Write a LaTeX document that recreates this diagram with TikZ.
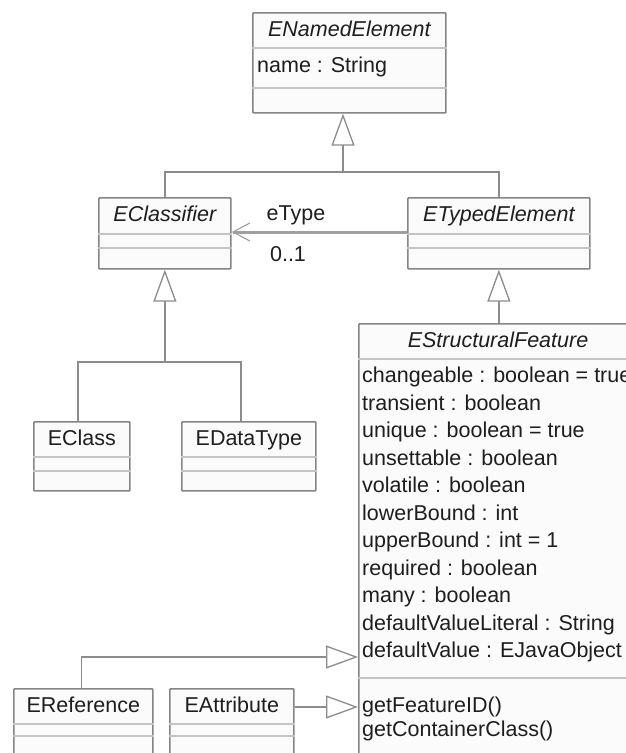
\documentclass[tikz,border=0pt]{standalone}
\usepackage{fontspec}
\setmainfont{Liberation Sans}
\usetikzlibrary{arrows.meta}

\definecolor{boxedge}{HTML}{858585}
\definecolor{boxfill}{HTML}{FBFBFB}
\definecolor{seprule}{HTML}{C4C4C4}
\definecolor{treeline}{HTML}{8C8C8C}
\definecolor{assocline}{HTML}{A0A0A0}
\definecolor{ink}{HTML}{1E1E1E}

\begin{document}
\begin{tikzpicture}[x=1pt,y=-1pt,
  font=\fontsize{21.5}{25}\selectfont,
  classbox/.style={draw=boxedge, line width=1.7pt, fill=boxfill, anchor=north west,
                   inner sep=0pt, rounded corners=0.8pt},
  seprow/.style={draw=seprule, line width=1.6pt},
  txt/.style={text=ink, inner sep=0pt, text height=15.5pt, text depth=4.5pt},
  abstitle/.style={txt, font=\fontsize{21.5}{25}\selectfont\itshape},
  contitle/.style={txt},
  member/.style={txt, anchor=west},
  tree/.style={draw=treeline, line width=1.6pt},
  gentip/.style={-{Triangle[length=32pt,width=23pt,fill=white,line width=1.3pt]}},
  assoc/.style={draw=assocline, line width=3pt,
                -{Straight Barb[length=17pt,width=18pt,line width=1.1pt]}},
  label/.style={txt}]

\useasboundingbox (0,0) rectangle (626,753);
\clip (0,0) rectangle (626,753);
\fill[white] (0,0) rectangle (626,753);

% ---------- ENamedElement ----------
\node[classbox, minimum width=193pt, minimum height=100pt] (ene) at (252,12) {};
\draw[seprow] (ene.west |- 0,48) -- (ene.east |- 0,48);
\draw[seprow] (ene.west |- 0,88) -- (ene.east |- 0,88);
\node[abstitle] (ene-t) at (ene.north |- 0,31) {ENamedElement};
\node[member] (ene-a1) at (257,67) {name : String};

% ---------- EClassifier ----------
\node[classbox, minimum width=132pt, minimum height=71pt] (ecl) at (98,197) {};
\draw[seprow] (ecl.west |- 0,234) -- (ecl.east |- 0,234);
\draw[seprow] (ecl.west |- 0,248) -- (ecl.east |- 0,248);
\node[abstitle] (ecl-t) at (ecl.north |- 0,216) {EClassifier};

% ---------- ETypedElement ----------
\node[classbox, minimum width=182pt, minimum height=71pt] (ete) at (407,197) {};
\draw[seprow] (ete.west |- 0,234) -- (ete.east |- 0,234);
\draw[seprow] (ete.west |- 0,248) -- (ete.east |- 0,248);
\node[abstitle] (ete-t) at (ete.north |- 0,216) {ETypedElement};

% ---------- EClass ----------
\node[classbox, minimum width=96pt, minimum height=69pt] (ecs) at (33,421) {};
\draw[seprow] (ecs.west |- 0,457) -- (ecs.east |- 0,457);
\draw[seprow] (ecs.west |- 0,471) -- (ecs.east |- 0,471);
\node[contitle] (ecs-t) at (ecs.north |- 0,440) {EClass};

% ---------- EDataType ----------
\node[classbox, minimum width=134pt, minimum height=69pt] (edt) at (181,421) {};
\draw[seprow] (edt.west |- 0,457) -- (edt.east |- 0,457);
\draw[seprow] (edt.west |- 0,471) -- (edt.east |- 0,471);
\node[contitle] (edt-t) at (edt.north |- 0,440) {EDataType};

% ---------- EStructuralFeature ----------
\node[classbox, minimum width=282pt, minimum height=460pt] (esf) at (358,323) {};
\draw[seprow] (esf.west |- 0,359) -- (esf.east |- 0,359);
\draw[seprow] (esf.west |- 0,678) -- (esf.east |- 0,678);
\node[abstitle] (esf-t) at (498,342) {EStructuralFeature};
\foreach \txt [count=\i from 0] in {
    changeable : boolean = true,
    transient : boolean,
    unique : boolean = true,
    unsettable : boolean,
    volatile : boolean,
    lowerBound : int,
    upperBound : int = 1,
    required : boolean,
    many : boolean,
    defaultValueLiteral : String,
    defaultValue : EJavaObject}
  \node[member] (esf-a\i) at (362,377+27.5*\i) {\txt};
\node[member] (esf-o1) at (362,707) {getFeatureID()};
\node[member] (esf-o2) at (362,731) {getContainerClass()};

% ---------- EReference ----------
\node[classbox, minimum width=139pt, minimum height=90pt] (erf) at (13,688) {};
\draw[seprow] (erf.west |- 0,724) -- (erf.east |- 0,724);
\draw[seprow] (erf.west |- 0,736) -- (erf.east |- 0,736);
\node[contitle] (erf-t) at (erf.north |- 0,707) {EReference};

% ---------- EAttribute ----------
\node[classbox, minimum width=124pt, minimum height=90pt] (eat) at (169,688) {};
\draw[seprow] (eat.west |- 0,724) -- (eat.east |- 0,724);
\draw[seprow] (eat.west |- 0,736) -- (eat.east |- 0,736);
\node[contitle] (eat-t) at (eat.north |- 0,707) {EAttribute};

% ---------- generalizations ----------
\coordinate (j1) at (343,172);
\draw[tree] (ecl.north) |- (j1) -| (ete.north);
\draw[tree, gentip] (j1) -- (j1 |- ene.south);

\coordinate (j2) at (ecl.south |- 0,362);
\draw[tree] ([xshift=-4pt]ecs.north) |- (j2) -| ([xshift=-8pt]edt.north);
\draw[tree, gentip] (j2) -- (ecl.south);

\draw[tree, gentip] (ete.south |- esf.north) -- (ete.south);

\coordinate (j3) at ([xshift=-2pt]erf.north |- 0,657);
\draw[tree, gentip] ([xshift=-2pt]erf.north) -- (j3) -- (esf.west |- j3);
\draw[tree, gentip] (eat.east |- 0,707) -- (esf.west |- 0,707);

% ---------- association ----------
\draw[assoc] (ete.west |- 0,232) -- (ecl.east |- 0,232);
\node[label] (lbl-role) at (296,215) {eType};
\node[label] (lbl-mult) at (288,256) {0..1};

\end{tikzpicture}
\end{document}
